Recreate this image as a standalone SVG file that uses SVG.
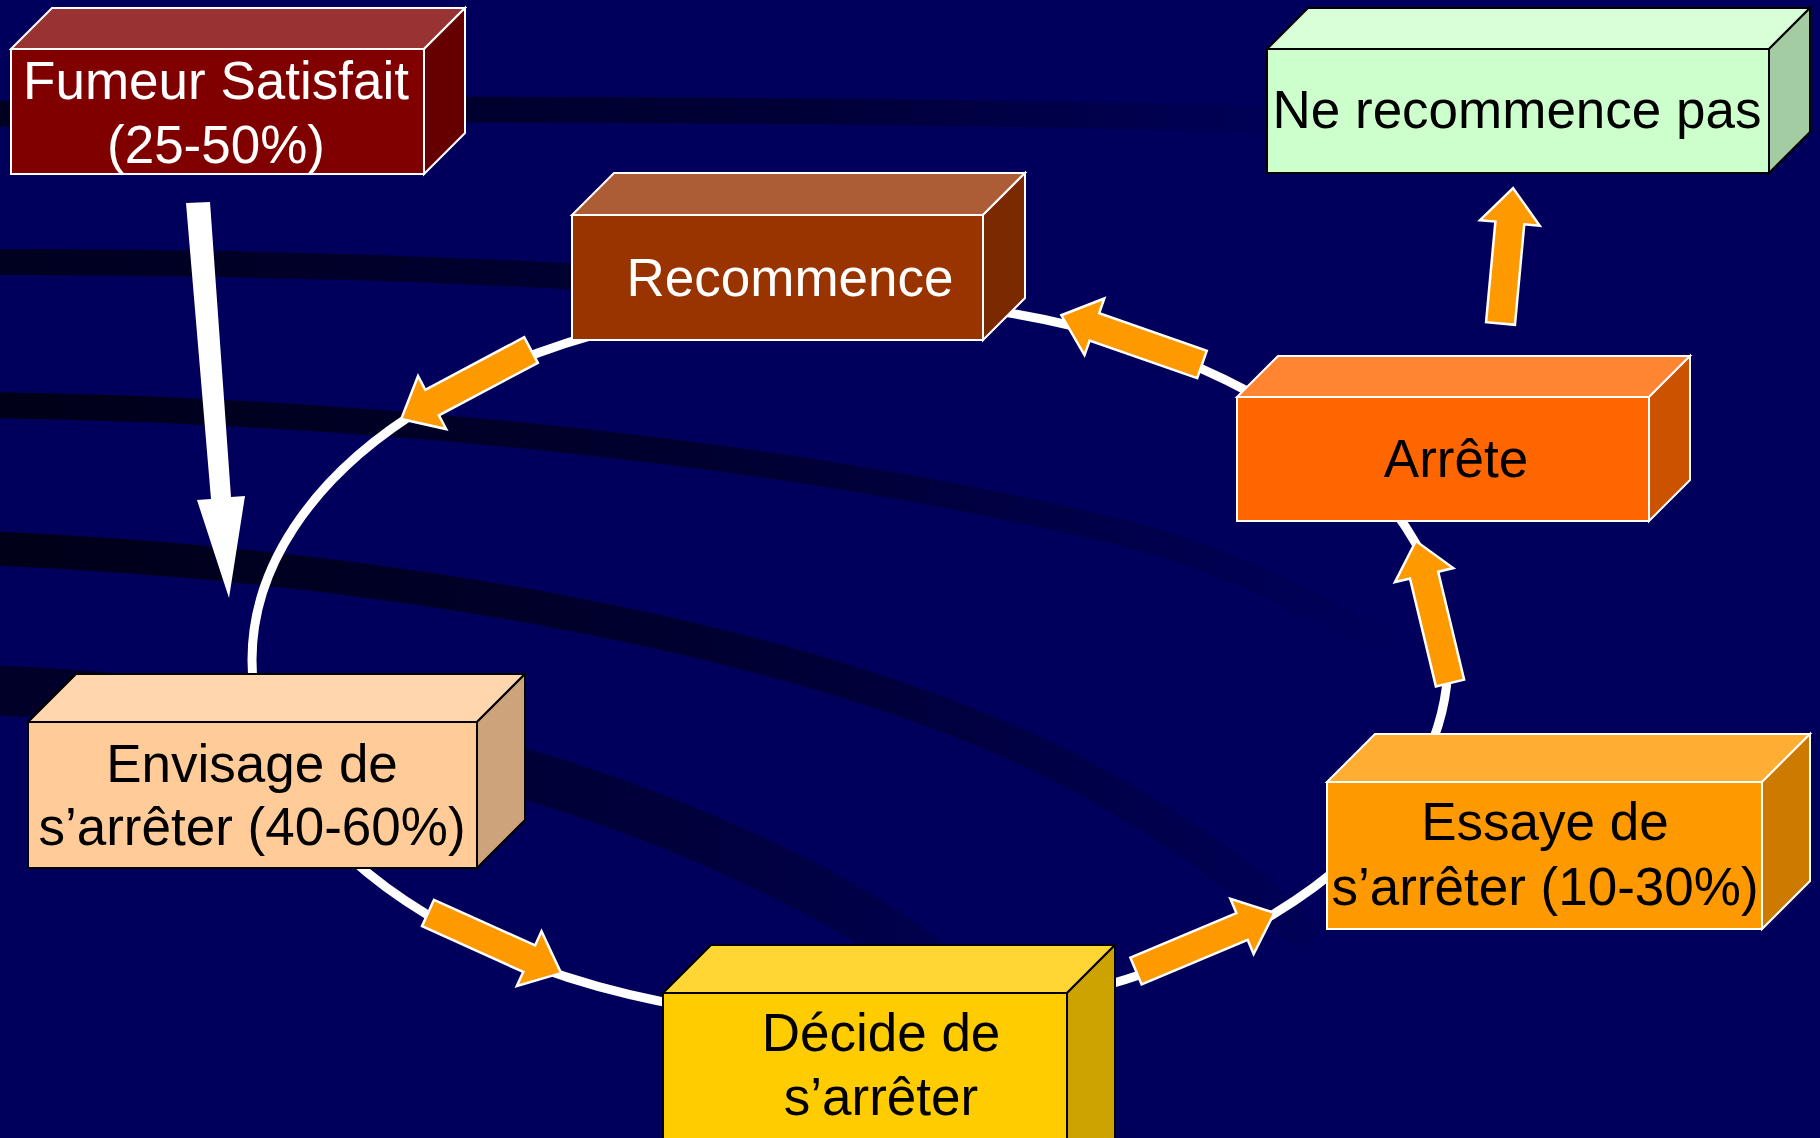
<svg xmlns="http://www.w3.org/2000/svg" width="1820" height="1138" viewBox="0 0 1820 1138">
<defs>
<style>
.t{font-family:"Liberation Sans",Arial,sans-serif;font-size:53px;text-anchor:middle}
.w{fill:#ffffff}
.k{fill:#000000}
.sw{stroke:#ffffff;stroke-width:2}
.sk{stroke:#000000;stroke-width:2}
.oa{fill:#ff9900;stroke:#ffffff;stroke-width:2.5;stroke-linejoin:miter}
.band{fill:none;stroke-linecap:round}
</style>
<linearGradient id="g1" gradientUnits="userSpaceOnUse" x1="0" y1="0" x2="1350" y2="0">
<stop offset="0" stop-color="#000020"/><stop offset="0.6" stop-color="#000038"/><stop offset="1" stop-color="#00005c"/>
</linearGradient>
<linearGradient id="g2" gradientUnits="userSpaceOnUse" x1="0" y1="0" x2="1400" y2="0">
<stop offset="0" stop-color="#000018"/><stop offset="0.5" stop-color="#000030"/><stop offset="1" stop-color="#00005c"/>
</linearGradient>
<linearGradient id="g3" gradientUnits="userSpaceOnUse" x1="0" y1="0" x2="1150" y2="0">
<stop offset="0" stop-color="#000028"/><stop offset="0.6" stop-color="#00003c"/><stop offset="1" stop-color="#00005c"/>
</linearGradient>
</defs>
<rect x="0" y="0" width="1820" height="1138" fill="#00005c"/>
<g id="background">
<path class="band" d="M-20,114 C400,106 900,110 1320,120" stroke="url(#g1)" stroke-width="26"/>
<path class="band" d="M-20,262 C250,262 450,268 720,285" stroke="url(#g1)" stroke-width="26"/>
<path class="band" d="M-20,405 C350,410 800,450 1150,540 C1250,570 1320,610 1380,640" stroke="url(#g2)" stroke-width="26"/>
<path class="band" d="M-20,548 C400,565 800,640 1050,760 C1150,810 1250,880 1300,930" stroke="url(#g2)" stroke-width="34"/>
<path class="band" d="M-20,690 C300,700 600,770 850,910 C950,970 1050,1060 1110,1150" stroke="url(#g3)" stroke-width="50"/>
</g>
<g id="connectors">
<ellipse cx="850" cy="660" rx="598" ry="360" fill="none" stroke="#ffffff" stroke-width="9"/>
<polygon id="arrow-fumeur-envisage" points="186,203 210,202 231,497 245,496 229,598 197,500 211,499" fill="#ffffff"/>
<polygon id="arrow-recommence-envisage" class="oa" transform="translate(531,350) rotate(152)" points="0,-14.5 112,-14.5 112,-30 147,0 112,30 112,14.5 0,14.5"/>
<polygon id="arrow-arrete-recommence" class="oa" transform="translate(1202,364.5) rotate(199.3)" points="0,-14.5 114,-14.5 114,-30 149,0 114,30 114,14.5 0,14.5"/>
<polygon id="arrow-essaye-arrete" class="oa" transform="translate(1450,683) rotate(-103.5)" points="0,-14.5 111,-14.5 111,-30 146,0 111,30 111,14.5 0,14.5"/>
<polygon id="arrow-arrete-nerecommence" class="oa" transform="translate(1500.5,323.5) rotate(-84.7)" points="0,-14.5 101,-14.5 101,-30 136,0 101,30 101,14.5 0,14.5"/>
<polygon id="arrow-envisage-decide" class="oa" transform="translate(428,913) rotate(24.3)" points="0,-14.5 111,-14.5 111,-30 146,0 111,30 111,14.5 0,14.5"/>
<polygon id="arrow-decide-essaye" class="oa" transform="translate(1136,971) rotate(-22.8)" points="0,-14.5 115,-14.5 115,-30 150,0 115,30 115,14.5 0,14.5"/>
</g>
<g id="fumeur">
<polygon class="sw" points="11,49 52,8 465,8 424,49" fill="#993333"/>
<polygon class="sw" points="424,49 465,8 465,133 424,174" fill="#660000"/>
<rect class="sw" x="11" y="49" width="413" height="125" fill="#800000"/>
<text class="t w" x="216" y="99">Fumeur Satisfait</text>
<text class="t w" x="216" y="163">(25-50%)</text>
</g>
<g id="recommence">
<polygon class="sw" points="572,215 614,173 1025,173 983,215" fill="#ad5d35"/>
<polygon class="sw" points="983,215 1025,173 1025,298 983,340" fill="#7a2900"/>
<rect class="sw" x="572" y="215" width="411" height="125" fill="#993300"/>
<text class="t w" x="790" y="296">Recommence</text>
</g>
<g id="nerecommence">
<polygon class="sk" points="1267,49 1308,8 1810,8 1769,49" fill="#d9ffd9"/>
<polygon class="sk" points="1769,49 1810,8 1810,132 1769,173" fill="#a3cca3"/>
<rect class="sk" x="1267" y="49" width="502" height="124" fill="#ccffcc"/>
<text class="t k" x="1517" y="128">Ne recommence pas</text>
</g>
<g id="arrete">
<polygon class="sw" points="1237,397 1278,356 1690,356 1649,397" fill="#ff8533"/>
<polygon class="sw" points="1649,397 1690,356 1690,480 1649,521" fill="#cc5200"/>
<rect class="sw" x="1237" y="397" width="412" height="124" fill="#ff6600"/>
<text class="t k" x="1456" y="477">Arrête</text>
</g>
<g id="envisage">
<polygon class="sk" points="28,722 76,674 525,674 477,722" fill="#ffd6ad"/>
<polygon class="sk" points="477,722 525,674 525,820 477,868" fill="#cca37a"/>
<rect class="sk" x="28" y="722" width="449" height="146" fill="#ffcc99"/>
<text class="t k" x="252" y="782">Envisage de</text>
<text class="t k" x="252" y="845">s’arrêter (40-60%)</text>
</g>
<g id="essaye">
<polygon class="sw" points="1327,782 1375,734 1810,734 1762,782" fill="#ffad33"/>
<polygon class="sw" points="1762,782 1810,734 1810,881 1762,929" fill="#cc7a00"/>
<rect class="sw" x="1327" y="782" width="435" height="147" fill="#ff9900"/>
<text class="t k" x="1545" y="840">Essaye de</text>
<text class="t k" x="1545" y="905">s’arrêter (10-30%)</text>
</g>
<g id="decide">
<polygon class="sk" points="663,993 711,945 1115,945 1067,993" fill="#ffd633"/>
<polygon class="sk" points="1067,993 1115,945 1115,1145 1067,1193" fill="#cca300"/>
<rect class="sk" x="663" y="993" width="404" height="200" fill="#ffcc00"/>
<text class="t k" x="881" y="1051">Décide de</text>
<text class="t k" x="881" y="1115">s’arrêter</text>
</g>
</svg>
